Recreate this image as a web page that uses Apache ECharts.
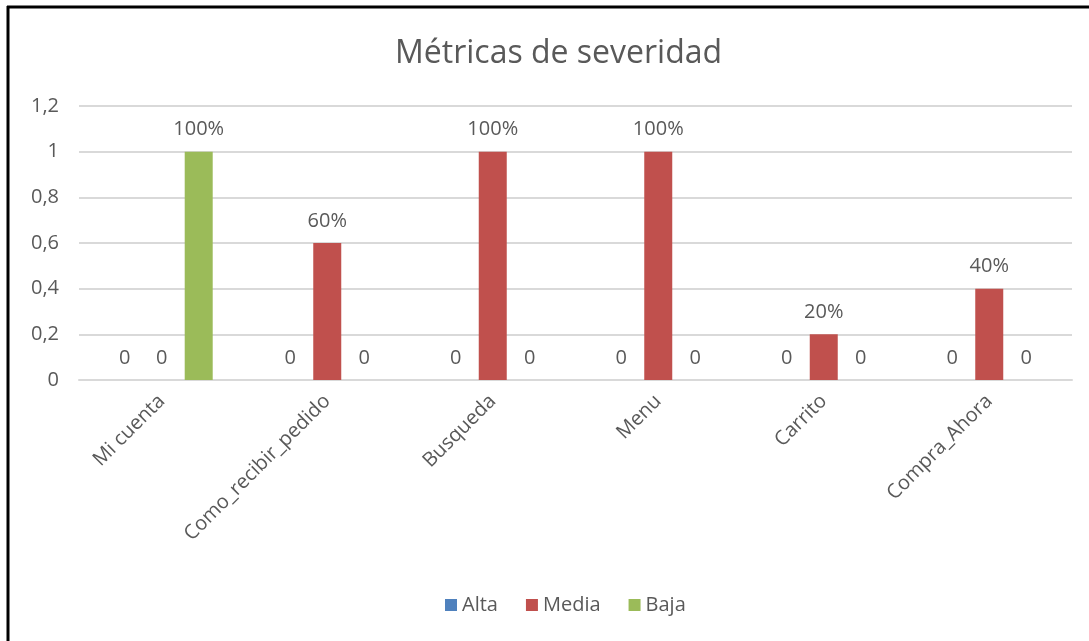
<!DOCTYPE html>
<html>
<head>
<meta charset="utf-8">
<script src="https://cdn.jsdelivr.net/npm/echarts@6/dist/echarts.min.js"></script>
<style>
  html, body { margin: 0; padding: 0; background: #fff; }
  #chart { width: 1089px; height: 641px; }
</style>
</head>
<body>
<div id="chart"></div>
<script>
// Severity metrics per section of the site
const categories = ['Mi cuenta', 'Como_recibir_pedido', 'Busqueda', 'Menu', 'Carrito', 'Compra_Ahora'];
const alta  = [0, 0, 0, 0, 0, 0];
const media = [0, 0.6, 1, 1, 0.2, 0.4];
const baja  = [1, 0, 0, 0, 0, 0];
const yTicks = ['0', '0,2', '0,4', '0,6', '0,8', '1', '1,2'];

const FONT = '"Open Sans", "Noto Sans", sans-serif';
const TEXT = '#595959';

// zero shows as "0", anything else as a percentage
function labelText(p) {
  return p.value === 0 ? '0' : Math.round(p.value * 100) + '%';
}

function series(name, data, color) {
  return {
    name: name,
    type: 'bar',
    data: data,
    barWidth: 28,
    barGap: '32%',
    itemStyle: { color: color },
    label: {
      show: true,
      position: 'top',
      distance: 12,
      formatter: labelText,
      color: TEXT,
      fontFamily: FONT,
      fontSize: 20
    }
  };
}

const chart = echarts.init(document.getElementById('chart'));
chart.setOption({
  animation: false,
  backgroundColor: '#fff',
  title: {
    text: 'Métricas de severidad',
    left: 390,
    top: 33,
    textStyle: { color: TEXT, fontFamily: FONT, fontSize: 32, fontWeight: 'normal' }
  },
  legend: {
    bottom: 21,
    left: 440,
    itemWidth: 12,
    itemHeight: 12,
    itemGap: 28,
    icon: 'rect',
    textStyle: { color: TEXT, fontFamily: FONT, fontSize: 20 },
    data: ['Alta', 'Media', 'Baja']
  },
  grid: { left: 79, right: 17, top: 106, bottom: 261, containLabel: false },
  xAxis: {
    type: 'category',
    data: categories,
    axisLine: { lineStyle: { color: '#d9d9d9', width: 2 } },
    axisTick: { show: false },
    axisLabel: {
      rotate: 45,
      margin: 18,
      color: TEXT,
      fontFamily: FONT,
      fontSize: 20
    }
  },
  yAxis: {
    type: 'value',
    min: 0,
    max: 1.2,
    interval: 0.2,
    axisLine: { show: false },
    axisTick: { show: false },
    splitLine: { lineStyle: { color: '#d9d9d9', width: 2 } },
    axisLabel: {
      margin: 20,
      color: TEXT,
      fontFamily: FONT,
      fontSize: 20,
      formatter: function (v) { return yTicks[Math.round(v / 0.2)]; }
    }
  },
  series: [
    series('Alta', alta, '#4f81bd'),
    series('Media', media, '#c0504d'),
    series('Baja', baja, '#9bbb59')
  ],
  graphic: [
    { type: 'line', shape: { x1: 7, y1: 7, x2: 1089, y2: 7 }, style: { stroke: '#000', lineWidth: 3 } },
    { type: 'line', shape: { x1: 8, y1: 6, x2: 8, y2: 641 }, style: { stroke: '#000', lineWidth: 3 } }
  ]
});
</script>
</body>
</html>
